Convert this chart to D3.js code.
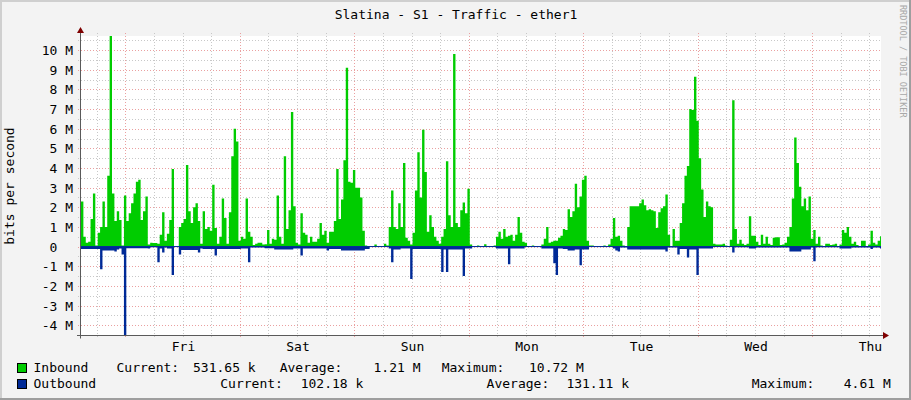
<!DOCTYPE html>
<html><head><meta charset="utf-8">
<script src="https://cdn.jsdelivr.net/npm/d3@7/dist/d3.min.js"></script>
<style>
html,body{margin:0;padding:0;background:#f3f3f3;}
svg{display:block;}
text{font-family:"DejaVu Sans Mono",monospace;font-size:13px;fill:#000;white-space:pre;}
</style></head><body>
<svg id="chart" width="911" height="400"></svg>
<script>
// ---------------- data ----------------
const title = "Slatina - S1 - Traffic - ether1";
const yAxisTitle = "bits per second";
const watermark = "RRDTOOL / TOBI OETIKER";
const startTime = Date.UTC(2021, 0, 7, 14, 43);   // Thu 14:43
const spanHours = 167.7;
const stepMinutes = 30;
// Inbound, Mbit/s, one value per 30 minutes
const inbound = [
  2.3,0.5,0.2,0.25,1.4,2.7,0.05,0.7,1.0,2.3,
  1.0,3.6,10.72,2.7,1.3,1.8,1.35,0.05,2.6,1.3,
  1.7,2.2,2.7,3.3,3.4,1.35,1.8,2.55,0.1,0.2,
  0.18,0.18,0.15,0.6,1.75,0.3,0.65,1.35,3.95,0.02,
  0.02,1.0,1.2,1.4,4.15,1.8,1.2,2.0,2.2,1.3,
  0.15,1.8,0.9,1.0,0.8,3.15,0.95,0.15,0.5,2.45,
  1.45,0.15,1.75,4.6,6.0,5.35,0.3,0.5,0.4,2.45,
  0.75,0.5,0.08,0.15,0.2,0.2,0.1,0.12,0.85,0.15,
  0.4,0.35,2.6,0.5,0.15,4.6,0.9,1.85,6.85,2.05,
  0.2,0.1,1.7,0.7,0.6,0.2,0.5,0.25,0.25,0.4,
  1.2,0.6,0.8,0.2,0.75,0.75,1.3,3.95,1.4,2.4,
  4.4,9.1,3.3,3.25,3.9,3.0,3.0,2.5,0.8,0.05,
  0.02,0.02,0.02,0.1,0.02,0.02,0.02,0.15,0.05,1.0,
  2.85,1.0,0.9,2.2,1.0,4.25,0.45,0.3,0.1,0.7,
  2.85,4.8,2.5,5.95,3.8,0.75,1.6,1.0,0.5,0.3,
  0.15,0.5,0.9,4.35,1.6,1.0,9.8,1.2,1.0,1.85,
  2.25,1.7,2.95,0.1,0.02,0.03,0.05,0.03,0.02,0.12,
  0.02,0.02,0.03,0.05,0.5,0.75,0.4,0.9,0.5,0.55,
  0.6,0.3,0.6,1.5,0.7,0.25,0.2,0.03,0.02,0.05,
  0.03,0.02,0.02,0.1,0.4,1.0,0.2,0.25,0.3,0.3,
  0.45,0.55,0.9,0.85,1.9,1.5,1.8,3.2,2.0,2.55,
  3.4,3.6,0.3,0.05,0.05,0.02,0.02,0.03,0.02,0.05,
  0.02,0.1,0.4,1.45,0.5,0.55,0.3,0.05,0.03,1.0,
  2.05,2.05,2.05,2.05,2.2,2.4,2.1,1.85,1.9,1.85,
  1.8,0.95,1.75,1.95,2.05,2.65,0.6,0.02,0.9,0.3,
  0.3,1.2,2.2,3.6,4.1,7.0,6.95,8.65,6.4,4.5,
  2.9,1.5,2.3,2.05,2.0,0.15,0.1,0.1,0.1,0.15,
  0.05,0.03,0.35,7.45,0.9,0.15,0.35,0.15,0.08,0.15,
  1.55,0.55,0.55,0.25,0.08,0.6,0.15,0.5,0.15,0.08,
  0.45,0.48,0.47,0.08,0.1,0.2,0.5,1.0,2.45,5.55,
  4.25,3.05,2.05,2.45,1.85,2.55,0.4,0.85,0.15,0.5,
  0.05,0.03,0.15,0.15,0.08,0.1,0.15,0.03,0.1,0.85,
  0.7,1.0,0.5,0.15,0.25,0.08,0.03,0.3,0.3,0.03,
  0.1,0.8,0.2,0.1,0.3,0.53
];
// Outbound, Mbit/s (drawn below zero)
const outbound = [
  0.12,0.12,0.12,0.12,0.12,0.12,0.12,0.12,1.15,0.2,
  0.2,0.2,0.2,0.2,0.25,0.15,0.1,0.4,4.61,0.08,
  0.08,0.08,0.08,0.08,0.08,0.08,0.08,0.08,0.1,0.03,
  0.03,0.03,0.8,0.1,0.3,0.05,0.1,0.1,1.45,0.02,
  0.02,0.4,0.18,0.18,0.18,0.18,0.18,0.18,0.18,0.3,
  0.1,0.12,0.12,0.12,0.12,0.12,0.45,0.12,0.12,0.12,
  0.12,0.12,0.12,0.12,0.12,0.12,0.12,0.1,0.1,0.1,
  0.8,0.05,0.05,0.05,0.05,0.05,0.05,0.08,0.08,0.08,
  0.08,0.15,0.15,0.15,0.15,0.15,0.15,0.15,0.15,0.1,
  0.1,0.1,0.45,0.1,0.1,0.1,0.1,0.1,0.1,0.1,
  0.1,0.1,0.1,0.2,0.12,0.12,0.12,0.12,0.12,0.2,
  0.2,0.2,0.2,0.2,0.2,0.2,0.2,0.2,0.2,0.12,
  0.12,0.02,0.02,0.02,0.02,0.02,0.02,0.02,0.02,0.1,
  0.8,0.15,0.15,0.15,0.1,0.1,0.1,0.1,1.65,0.12,
  0.12,0.12,0.12,0.12,0.12,0.12,0.12,0.12,0.12,0.12,
  0.12,1.3,0.15,1.3,0.15,0.15,0.15,0.15,0.15,0.15,
  1.5,0.1,0.1,0.1,0.02,0.02,0.02,0.02,0.02,0.02,
  0.02,0.02,0.02,0.02,0.1,0.1,0.1,0.1,0.1,0.9,
  0.1,0.1,0.1,0.1,0.1,0.1,0.02,0.02,0.02,0.02,
  0.02,0.02,0.02,0.1,0.1,0.1,0.1,0.1,0.85,1.45,
  0.1,0.1,0.12,0.12,0.2,0.2,0.2,0.15,0.15,0.95,
  0.15,0.15,0.15,0.02,0.02,0.02,0.02,0.02,0.02,0.02,
  0.02,0.02,0.02,0.1,0.2,0.25,0.05,0.05,0.05,0.15,
  0.15,0.15,0.15,0.15,0.15,0.15,0.15,0.15,0.15,0.15,
  0.15,0.15,0.15,0.15,0.15,0.25,0.05,0.05,0.05,0.05,
  0.4,0.12,0.12,0.12,0.55,0.15,0.15,0.15,1.45,0.1,
  0.1,0.1,0.1,0.1,0.1,0.02,0.02,0.02,0.02,0.02,
  0.02,0.02,0.02,0.3,0.03,0.03,0.03,0.03,0.03,0.03,
  0.1,0.1,0.1,0.05,0.05,0.05,0.05,0.05,0.05,0.05,
  0.05,0.05,0.05,0.05,0.05,0.05,0.05,0.25,0.25,0.25,
  0.25,0.25,0.15,0.15,0.15,0.15,0.05,0.75,0.03,0.03,
  0.03,0.03,0.03,0.03,0.03,0.03,0.03,0.03,0.1,0.1,
  0.1,0.1,0.1,0.05,0.05,0.05,0.05,0.05,0.05,0.05,
  0.05,0.12,0.05,0.05,0.05,0.1
];
const yTicks = [-4,-3,-2,-1,0,1,2,3,4,5,6,7,8,9,10];
const yTickLabels = ["-4 M","-3 M","-2 M","-1 M","0  ","1 M","2 M","3 M","4 M","5 M","6 M","7 M","8 M","9 M","10 M"];
const seriesNames = ["Inbound", "Outbound"];
const seriesColors = ["#00cc00", "#002a97"];
const statLabels = ["Current:", "Average:", "Maximum:"];
const inboundStats = ["531.65 k", "1.21 M", "10.72 M"];
const outboundStats = ["102.18 k", "131.11 k", "4.61 M"];

// ---------------- layout ----------------
const W = 911, H = 400;
const L = 81, R = 881, T = 36, B = 335.5;
const svg = d3.select("#chart");

// background & frame
svg.append("rect").attr("width", W).attr("height", H).attr("fill", "#f3f3f3");
svg.append("rect").attr("x", 0).attr("y", 0).attr("width", W).attr("height", 2).attr("fill", "#cfcfcf");
svg.append("rect").attr("x", 0).attr("y", 0).attr("width", 2).attr("height", H).attr("fill", "#cfcfcf");
svg.append("rect").attr("x", W - 2).attr("y", 0).attr("width", 2).attr("height", H).attr("fill", "#9e9e9e");
svg.append("rect").attr("x", 0).attr("y", H - 2).attr("width", W).attr("height", 2).attr("fill", "#9e9e9e");

const x = d3.scaleUtc().domain([new Date(startTime), new Date(startTime + spanHours * 3600e3)]).range([L, R]);
const y = d3.scaleLinear().domain([-4.527, 10.72]).range([B, T]);

svg.append("rect").attr("x", L).attr("y", T).attr("width", R - L).attr("height", B - T).attr("fill", "#ffffff");

// grid
const gGrid = svg.append("g").attr("shape-rendering", "crispEdges");
const minorColor = "#c8c8c8", majorColor = "#eaa0a0";
const yMinor = d3.range(-4.5, 10.6, 0.5).filter(v => Math.abs(v - Math.round(v)) > 0.1);
gGrid.selectAll(".hmin").data(yMinor).enter().append("line")
  .attr("x1", L - 3).attr("x2", R).attr("y1", d => Math.round(y(d)) + 0.5).attr("y2", d => Math.round(y(d)) + 0.5)
  .attr("stroke", minorColor).attr("stroke-dasharray", "1,2");
const [t0, t1] = x.domain();
const vMinor = d3.utcHour.every(6).range(t0, t1).filter(d => d.getUTCHours() !== 0);
gGrid.selectAll(".vmin").data(vMinor).enter().append("line")
  .attr("x1", d => Math.round(x(d)) + 0.5).attr("x2", d => Math.round(x(d)) + 0.5)
  .attr("y1", T - 3).attr("y2", B + 3)
  .attr("stroke", minorColor).attr("stroke-dasharray", "1,2");
gGrid.selectAll(".hmaj").data(yTicks).enter().append("line")
  .attr("x1", L - 3).attr("x2", R).attr("y1", d => Math.round(y(d)) + 0.5).attr("y2", d => Math.round(y(d)) + 0.5)
  .attr("stroke", majorColor).attr("stroke-dasharray", "1,2");
const vMajor = d3.utcDay.range(t0, t1);
gGrid.selectAll(".vmaj").data(vMajor).enter().append("line")
  .attr("x1", d => Math.round(x(d)) + 0.5).attr("x2", d => Math.round(x(d)) + 0.5)
  .attr("y1", T - 3).attr("y2", B + 3)
  .attr("stroke", majorColor).attr("stroke-dasharray", "1,2");

// data
const stepMs = stepMinutes * 60e3;
const toPts = arr => arr.map((v, i) => ({ t: new Date(startTime + i * stepMs), v })).concat([{ t: new Date(startTime + arr.length * stepMs), v: arr[arr.length - 1] }]);
svg.append("clipPath").attr("id", "plotclip").append("rect").attr("x", L).attr("y", T - 1).attr("width", R - L).attr("height", B - T + 1);
const gData = svg.append("g").attr("clip-path", "url(#plotclip)");
const areaIn = d3.area().curve(d3.curveStepAfter).x(d => x(d.t)).y0(y(0)).y1(d => y(d.v));
const areaOut = d3.area().curve(d3.curveStepAfter).x(d => x(d.t)).y0(y(0)).y1(d => y(-d.v));
gData.append("path").datum(toPts(inbound)).attr("d", areaIn).attr("fill", seriesColors[0]);
gData.append("path").datum(toPts(outbound)).attr("d", areaOut).attr("fill", seriesColors[1]);
gData.append("line").attr("x1", L).attr("x2", R).attr("y1", y(0)).attr("y2", y(0)).attr("stroke", seriesColors[1]).attr("stroke-width", 1);

// axes
const axisColor = "#5a5a5a", arrowColor = "#7f0000";
svg.append("line").attr("x1", L - 0.5).attr("x2", L - 0.5).attr("y1", T - 4).attr("y2", B + 3).attr("stroke", axisColor);
svg.append("line").attr("x1", L - 4).attr("x2", R + 2).attr("y1", B).attr("y2", B).attr("stroke", axisColor);
svg.append("path").attr("d", `M${L - 4},${T - 3} L${L - 0.5},${T - 9} L${L + 3},${T - 3} Z`).attr("fill", arrowColor);
svg.append("path").attr("d", `M${R + 2},${B - 3.5} L${R + 8},${B} L${R + 2},${B + 3.5} Z`).attr("fill", arrowColor);

// y tick labels
svg.selectAll(".ylab").data(yTicks).enter().append("text")
  .attr("x", 73).attr("y", d => y(d) + 5).attr("text-anchor", "end")
  .text((d, i) => yTickLabels[i]);

// x day labels at noon
const dayNoons = d3.utcDay.range(d3.utcDay.floor(t0), t1).map(d => new Date(+d + 12 * 3600e3)).filter(d => d > t0 && d < t1);
svg.selectAll(".xlab").data(dayNoons).enter().append("text")
  .attr("x", d => x(d) + 1).attr("y", 351).attr("text-anchor", "middle")
  .text(d => d3.utcFormat("%a")(d));

// title
svg.append("text").attr("x", 456).attr("y", 19).attr("text-anchor", "middle").text(title);
// y axis title
svg.append("text").attr("transform", "translate(14,186) rotate(-90)").attr("text-anchor", "middle").text(yAxisTitle);
// watermark
svg.append("text").attr("transform", "translate(900,5) rotate(90)").attr("font-size", "8.5px")
  .style("font-size", "8.5px").style("fill", "#a8a8a8").text(watermark);

// legend
const rows = [
  { y: 372, name: seriesNames[0], color: seriesColors[0], stats: inboundStats, xs: [116.5, 193, 279.7, 373.5, 441.7, 529] },
  { y: 388, name: seriesNames[1], color: seriesColors[1], stats: outboundStats, xs: [220.3, 300.7, 486.6, 566.4, 751.7, 843.8] }
];
rows.forEach(r => {
  svg.append("rect").attr("x", 17.5).attr("y", r.y - 8.5).attr("width", 9).attr("height", 9)
    .attr("fill", r.color).attr("stroke", "#000").attr("stroke-width", 1);
  svg.append("text").attr("x", 33.5).attr("y", r.y).text(r.name);
  statLabels.forEach((lab, k) => {
    svg.append("text").attr("x", r.xs[2 * k]).attr("y", r.y).text(lab);
    svg.append("text").attr("x", r.xs[2 * k + 1]).attr("y", r.y).text(r.stats[k]);
  });
});
</script>
</body></html>
